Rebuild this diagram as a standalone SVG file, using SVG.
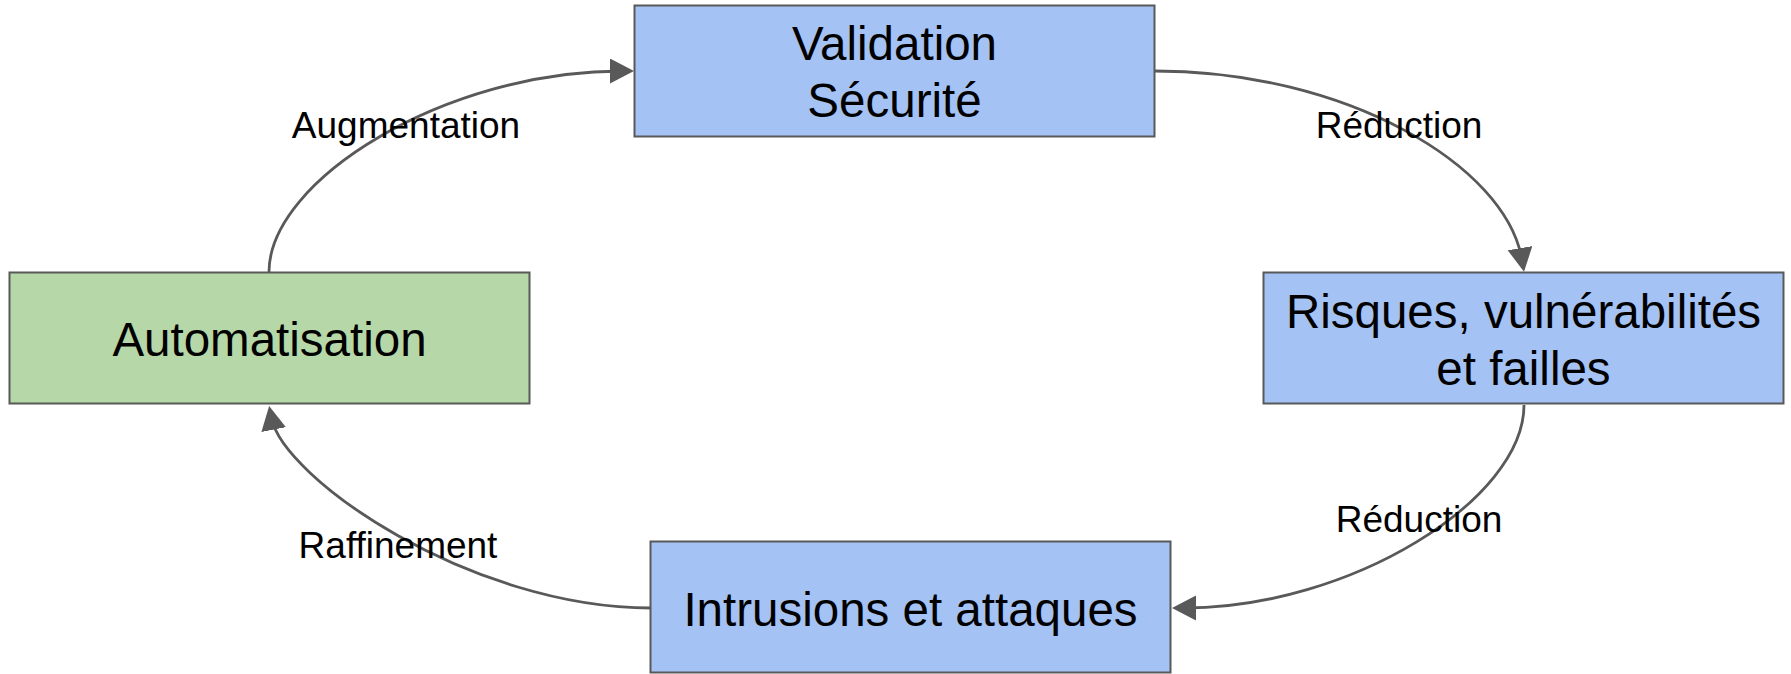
<svg xmlns="http://www.w3.org/2000/svg" width="1791" height="674" viewBox="0 0 1791 674">
  <style>
    .box { stroke: #595959; stroke-width: 2; }
    .blue { fill: #a4c2f4; }
    .green { fill: #b6d7a8; }
    .title { font-family: "Liberation Sans", Arial, sans-serif; font-size: 47.5px; fill: #000; text-anchor: middle; }
    .label { font-family: "Liberation Sans", Arial, sans-serif; font-size: 37px; fill: #000; text-anchor: middle; }
    .edge { fill: none; stroke: #595959; stroke-width: 2.8; marker-end: url(#arrow); }
  </style>
  <defs>
    <marker id="arrow" markerUnits="userSpaceOnUse" markerWidth="26" markerHeight="26" refX="12" refY="12.5" orient="auto">
      <path d="M0,0 L24,12.5 L0,25 Z" fill="#595959"/>
    </marker>
  </defs>
  <rect width="1791" height="674" fill="#ffffff"/>

  <!-- connectors -->
  <g id="connectors">
    <path class="edge" d="M269,272 C269,180 445,71 622,71"/>
    <path class="edge" d="M1155,71 C1345,71 1506,165 1522,260"/>
    <path class="edge" d="M1524,405 C1524,500 1350,608 1184,608"/>
    <path class="edge" d="M651,608 C470,608 283,478 271.4,417.8"/>
    <text class="label" x="406" y="138">Augmentation</text>
    <text class="label" x="1399" y="138">Réduction</text>
    <text class="label" x="1419" y="532">Réduction</text>
    <text class="label" x="398" y="558">Raffinement</text>
  </g>

  <g id="validation">
    <rect class="box blue" x="634.5" y="5.5" width="520" height="131"/>
    <text class="title" x="894.5" y="60">Validation</text>
    <text class="title" x="894.5" y="117">Sécurité</text>
  </g>

  <g id="automatisation">
    <rect class="box green" x="9.5" y="272.5" width="520" height="131"/>
    <text class="title" x="269.5" y="356">Automatisation</text>
  </g>

  <g id="risques">
    <rect class="box blue" x="1263.5" y="272.5" width="520" height="131"/>
    <text class="title" x="1523.5" y="328">Risques, vulnérabilités</text>
    <text class="title" x="1523.5" y="385">et failles</text>
  </g>

  <g id="intrusions">
    <rect class="box blue" x="650.5" y="541.5" width="520" height="131"/>
    <text class="title" x="910.5" y="626">Intrusions et attaques</text>
  </g>
</svg>
